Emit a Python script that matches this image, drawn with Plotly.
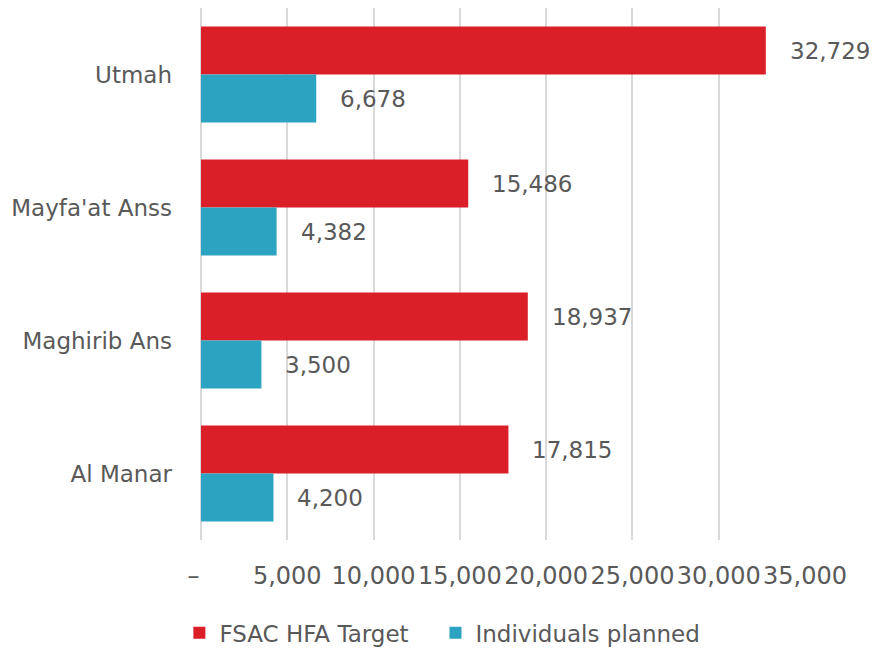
import plotly.graph_objects as go

# Districts and their figures
districts = ["Utmah", "Mayfa'at Anss", "Maghirib Ans", "Al Manar"]
fsac_target = [32729, 15486, 18937, 17815]
individuals_planned = [6678, 4382, 3500, 4200]

tick_values = [0, 5000, 10000, 15000, 20000, 25000, 30000, 35000]
tick_labels = ["–\u00a0\u00a0", "5,000", "10,000", "15,000", "20,000", "25,000", "30,000", "35,000"]

RED = "#DA1F28"
BLUE = "#2CA3C1"
TEXT = "#595959"
GRID = "#D9D9D9"
FONT = "DejaVu Sans"
PAD = "\u00a0" * 3

fig = go.Figure()
fig.add_trace(go.Bar(
    y=districts, x=fsac_target, orientation="h", name="FSAC HFA Target" + PAD,
    marker=dict(color=RED, line=dict(width=0)),
))
fig.add_trace(go.Bar(
    y=districts, x=individuals_planned, orientation="h", name="Individuals planned",
    marker=dict(color=BLUE, line=dict(width=0)),
))

# Value labels placed to the right of each bar
annotations = []
for vals, shift in ((fsac_target, 24), (individuals_planned, -24)):
    for d, v in zip(districts, vals):
        annotations.append(dict(
            x=v, y=d, xref="x", yref="y", text=f"{v:,}", showarrow=False,
            xanchor="left", yanchor="middle", xshift=22, yshift=shift,
            font=dict(family=FONT, size=23, color=TEXT),
        ))

fig.update_layout(
    width=876, height=649,
    margin=dict(l=201, r=71, t=8, b=109),
    paper_bgcolor="white", plot_bgcolor="white",
    barmode="group", bargap=0.28, bargroupgap=0,
    font=dict(family=FONT, size=23, color=TEXT),
    annotations=annotations,
    showlegend=True,
    legend=dict(
        orientation="h", xref="container", yref="container",
        x=0.505, xanchor="center", y=0.025, yanchor="middle",
        font=dict(family=FONT, size=23, color=TEXT),
        itemwidth=30, traceorder="normal",
    ),
    xaxis=dict(
        range=[0, 35000], tickvals=tick_values, ticktext=tick_labels,
        showgrid=True, gridcolor=GRID, gridwidth=2,
        zeroline=True, zerolinecolor=GRID, zerolinewidth=2,
        showline=False, ticks="",
        ticklabelstandoff=19,
        tickfont=dict(family=FONT, size=24, color=TEXT),
    ),
    yaxis=dict(
        autorange="reversed", showgrid=False, zeroline=False, showline=False,
        ticks="", ticklabelstandoff=28,
        tickfont=dict(family=FONT, size=23, color=TEXT),
    ),
)

fig.write_html("out.html")
